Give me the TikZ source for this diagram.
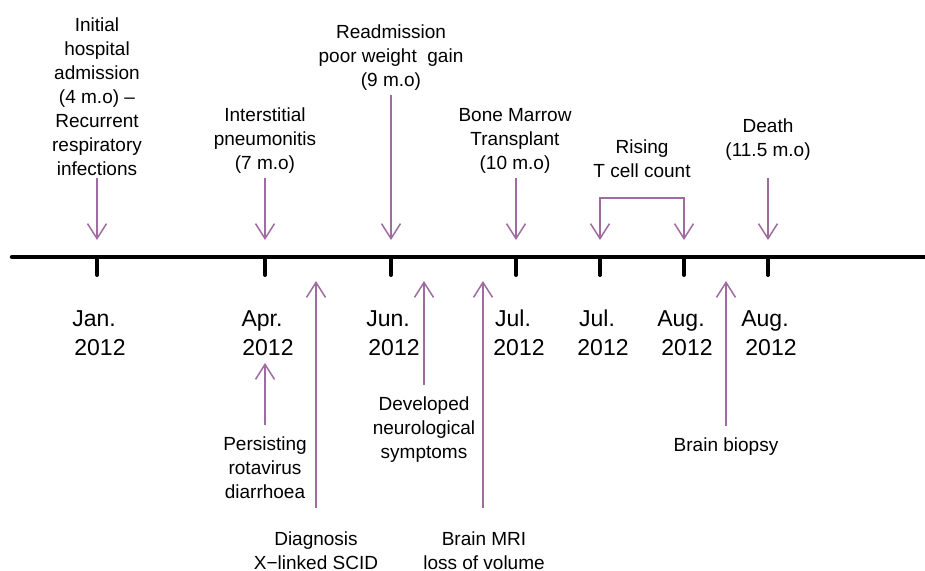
\documentclass[tikz,border=0pt]{standalone}
\usepackage{fontspec}
\setmainfont{Liberation Sans}
\usetikzlibrary{arrows.meta}
\definecolor{evt}{RGB}{158,108,160}
\begin{document}
\begin{tikzpicture}[x=1pt,y=-1pt,
  lbl/.style={align=center,inner sep=0pt,anchor=base,font=\fontsize{19}{24}\selectfont},
  datelbl/.style={align=center,inner sep=0pt,anchor=base,font=\fontsize{23}{29}\selectfont},
  evarrow/.style={draw=evt,line width=1.5pt,-{Straight Barb[length=15pt,width=19pt]}},
  twoarrow/.style={draw=evt,line width=1.5pt,{Straight Barb[length=15pt,width=19pt]}-{Straight Barb[length=15pt,width=19pt]}},
  timeline/.style={line width=4.5pt,line cap=round},
  tickmark/.style={line width=4pt,line cap=round}]
\useasboundingbox (0,0) rectangle (925,570);

% timeline
\coordinate (tl0) at (12,257);
\coordinate (tl1) at (925,257);
\draw[timeline] (tl0) -- (tl1);

% ticks
\foreach \n/\x in {1/97,2/265,3/391,4/516,5/600,6/684,7/768}{
  \coordinate (t\n) at (\x,257);
  \coordinate (b\n) at (\x,275);
  \draw[tickmark] (t\n) -- (b\n);
}

% date labels (anchor = baseline of last line)
\node[datelbl] (dt1) at (97,355)  {Jan.\hspace*{6pt}\\\hspace*{6pt}2012};
\node[datelbl] (dt2) at (265,355) {Apr.\hspace*{6pt}\\\hspace*{6pt}2012};
\node[datelbl] (dt3) at (391,355) {Jun.\hspace*{6pt}\\\hspace*{6pt}2012};
\node[datelbl] (dt4) at (516,355) {Jul.\hspace*{6pt}\\\hspace*{6pt}2012};
\node[datelbl] (dt5) at (600,355) {Jul.\hspace*{6pt}\\\hspace*{6pt}2012};
\node[datelbl] (dt6) at (684,355) {Aug.\hspace*{6pt}\\\hspace*{6pt}2012};
\node[datelbl] (dt7) at (768,355) {Aug.\hspace*{6pt}\\\hspace*{6pt}2012};

% top labels
\node[lbl] (l1) at (97,175) {Initial\\hospital\\admission\\(4 m.o) –\\Recurrent\\respiratory\\infections};
\node[lbl] (l2) at (265,169) {Interstitial\\pneumonitis\\(7 m.o)};
\node[lbl] (l3) at (391,86) {Readmission\\poor weight\ \ gain\\(9 m.o)};
\node[lbl] (l4) at (515,169) {Bone Marrow\\Transplant\\(10 m.o)};
\node[lbl] (l5) at (642,177) {Rising\\T cell count};
\node[lbl] (l6) at (768,156) {Death\\(11.5 m.o)};

% bottom labels
\node[lbl] (m1) at (265,498) {Persisting\\rotavirus\\diarrhoea};
\node[lbl] (m2) at (316,569) {Diagnosis\\X−linked SCID};
\node[lbl] (m3) at (424,458) {Developed\\neurological\\symptoms};
\node[lbl] (m4) at (484,569) {Brain MRI\\loss of volume};
\node[lbl] (m5) at (726,451) {Brain biopsy};

% down arrows
\coordinate (d1a) at (97,178);  \coordinate (d1b) at (97,240);
\coordinate (d2a) at (265,178); \coordinate (d2b) at (265,240);
\coordinate (d3a) at (391,95);  \coordinate (d3b) at (391,240);
\coordinate (d4a) at (516,178); \coordinate (d4b) at (516,240);
\coordinate (d6a) at (768,178); \coordinate (d6b) at (768,240);
\draw[evarrow] (d1a) -- (d1b);
\draw[evarrow] (d2a) -- (d2b);
\draw[evarrow] (d3a) -- (d3b);
\draw[evarrow] (d4a) -- (d4b);
\draw[evarrow] (d6a) -- (d6b);

% bracket
\coordinate (r1) at (600,240); \coordinate (r2) at (600,198);
\coordinate (r3) at (684,198); \coordinate (r4) at (684,240);
\draw[twoarrow] (r1) -- (r2) -- (r3) -- (r4);

% up arrows
\coordinate (u1a) at (265,425); \coordinate (u1b) at (265,363);
\coordinate (u2a) at (316,508); \coordinate (u2b) at (316,281);
\coordinate (u3a) at (424,385); \coordinate (u3b) at (424,281);
\coordinate (u4a) at (483,508); \coordinate (u4b) at (483,281);
\coordinate (u5a) at (726,426); \coordinate (u5b) at (726,281);
\draw[evarrow] (u1a) -- (u1b);
\draw[evarrow] (u2a) -- (u2b);
\draw[evarrow] (u3a) -- (u3b);
\draw[evarrow] (u4a) -- (u4b);
\draw[evarrow] (u5a) -- (u5b);
\end{tikzpicture}
\end{document}
